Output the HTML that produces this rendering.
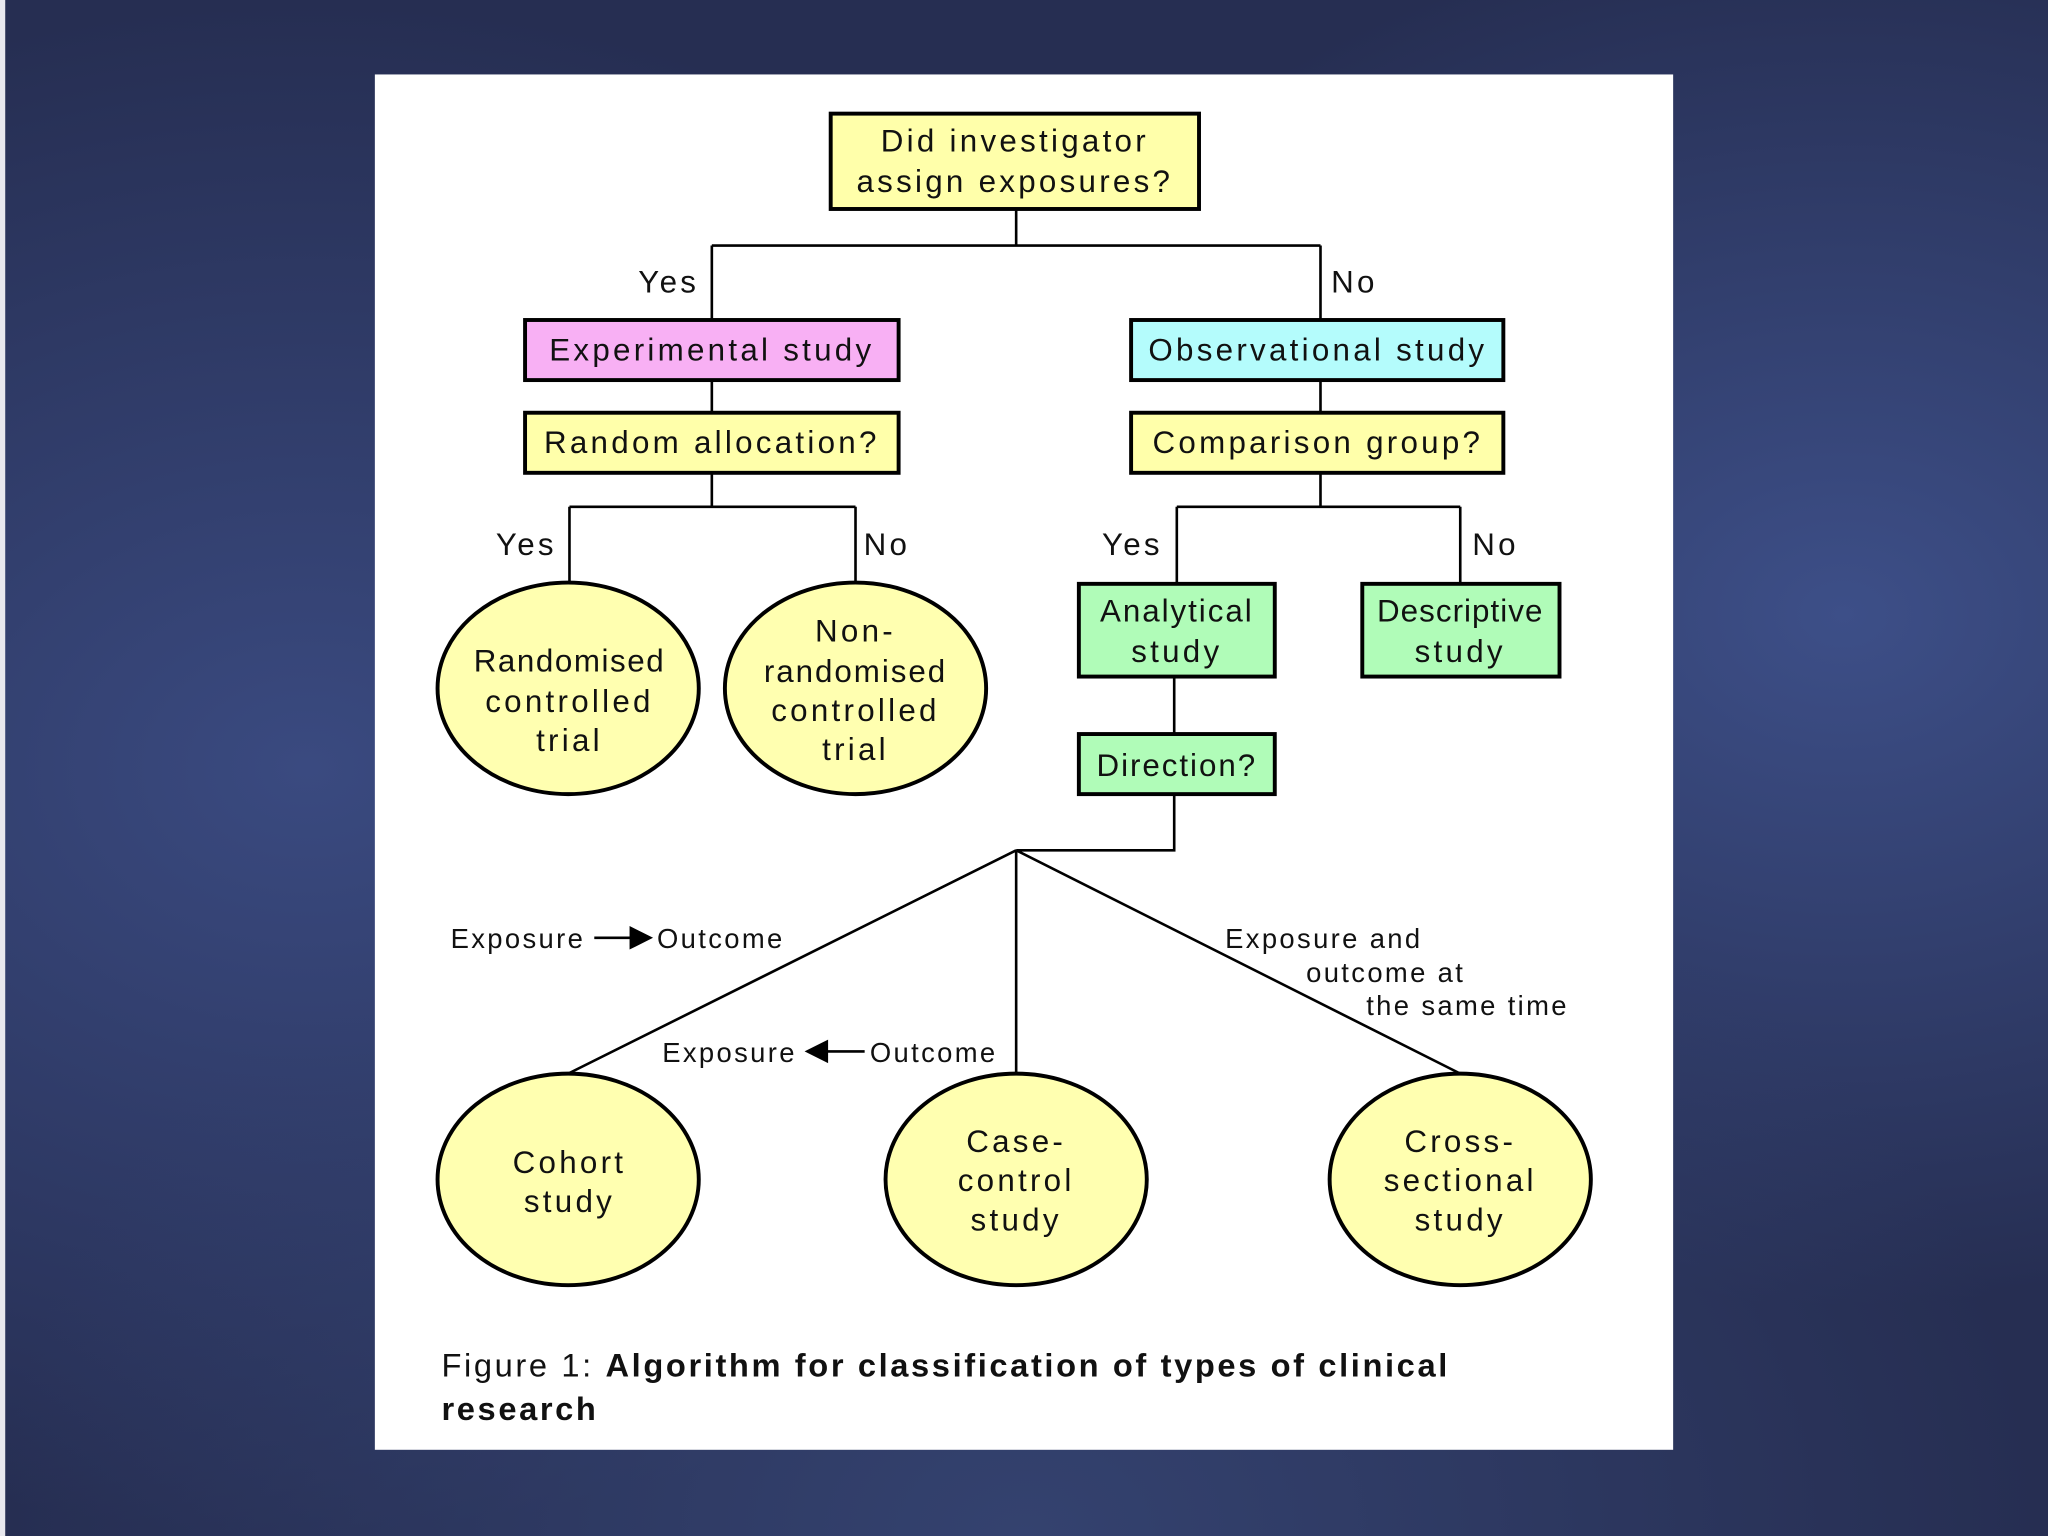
<!DOCTYPE html>
<html><head><meta charset="utf-8"><style>
html,body{margin:0;padding:0;width:2048px;height:1536px;overflow:hidden;background:#262e52}
svg{display:block}
text{font-family:"Liberation Sans",sans-serif;fill:#111}
</style></head><body>
<svg width="2048" height="1536" viewBox="0 0 1568 1176" xmlns="http://www.w3.org/2000/svg">
<defs>
<radialGradient id="g1" cx="0.15" cy="0.5" r="0.5"><stop offset="0" stop-color="#3a4a80"/><stop offset="1" stop-color="#3a4a80" stop-opacity="0"/></radialGradient>
<radialGradient id="g2" cx="0.9" cy="0.4" r="0.45"><stop offset="0" stop-color="#3d4f88"/><stop offset="1" stop-color="#3d4f88" stop-opacity="0"/></radialGradient>
<radialGradient id="g3" cx="0.5" cy="1" r="0.5"><stop offset="0" stop-color="#34426f"/><stop offset="1" stop-color="#34426f" stop-opacity="0"/></radialGradient>
</defs>
<rect width="1568" height="1176" fill="#262e52"/>
<rect width="1568" height="1176" fill="url(#g1)"/>
<rect width="1568" height="1176" fill="url(#g2)"/>
<rect width="1568" height="1176" fill="url(#g3)"/>
<rect x="0" y="0" width="4" height="1176" fill="#e8e8ee"/>
<rect x="287" y="57" width="994" height="1053" fill="#fff"/>

<g stroke="#000" stroke-width="2" fill="none">
<path d="M778 160V188M545 188H1011M545 188V245M1011 188V245M545 291V316M1011 291V316M545 362V388M436 388H655M436 388V447M655 388V447M1011 362V388M901 388H1118M901 388V447M1118 388V447M899 518V562M899 608V651H778M778 651L435 822M778 651V822M778 651L1118 822"/>
<path d="M455 718H485M632 805H662"/>
</g>
<polygon points="482,709 500,718 482,727" fill="#000"/>
<polygon points="634,796 616,805 634,814" fill="#000"/>

<g stroke="#000" stroke-width="3">
<rect x="636" y="87" width="282" height="73" fill="#ffffaa"/>
<rect x="402" y="245" width="286" height="46" fill="#f8b0f4"/>
<rect x="866" y="245" width="285" height="46" fill="#b4fcfc"/>
<rect x="402" y="316" width="286" height="46" fill="#ffffaa"/>
<rect x="866" y="316" width="285" height="46" fill="#ffffaa"/>
<rect x="826" y="447" width="150" height="71" fill="#b0fcb8"/>
<rect x="1043" y="447" width="151" height="71" fill="#b0fcb8"/>
<rect x="826" y="562" width="150" height="46" fill="#b0fcb8"/>
<ellipse cx="435" cy="527" rx="100" ry="81" fill="#ffffb0"/>
<ellipse cx="655" cy="527" rx="100" ry="81" fill="#ffffb0"/>
<ellipse cx="435" cy="903" rx="100" ry="81" fill="#ffffb0"/>
<ellipse cx="778" cy="903" rx="100" ry="81" fill="#ffffb0"/>
<ellipse cx="1118" cy="903" rx="100" ry="81" fill="#ffffb0"/>
</g>

<g font-size="24" text-anchor="middle" letter-spacing="2.5">
<text x="777" y="116">Did investigator</text>
<text x="777" y="147">assign exposures?</text>
<text x="545" y="276">Experimental study</text>
<text x="1009" y="276">Observational study</text>
<text x="545" y="347">Random allocation?</text>
<text x="1009" y="347">Comparison group?</text>
<text x="901" y="476" letter-spacing="1.5">Analytical</text>
<text x="901" y="507">study</text>
<text x="1118" y="476" letter-spacing="0.8">Descriptive</text>
<text x="1118" y="507">study</text>
<text x="901" y="594" letter-spacing="1.5">Direction?</text>
<text x="436" y="514" letter-spacing="1.2">Randomised</text>
<text x="436" y="545">controlled</text>
<text x="436" y="575">trial</text>
<text x="655" y="491">Non-</text>
<text x="655" y="522" letter-spacing="1.5">randomised</text>
<text x="655" y="552">controlled</text>
<text x="655" y="582">trial</text>
<text x="436" y="898">Cohort</text>
<text x="436" y="928">study</text>
<text x="778" y="882">Case-</text>
<text x="778" y="912">control</text>
<text x="778" y="942">study</text>
<text x="1118" y="882">Cross-</text>
<text x="1118" y="912">sectional</text>
<text x="1118" y="942">study</text>
<text x="512" y="224">Yes</text>
<text x="1037" y="224">No</text>
<text x="403" y="425">Yes</text>
<text x="679" y="425">No</text>
<text x="867" y="425">Yes</text>
<text x="1145" y="425">No</text>
</g>
<g font-size="21" letter-spacing="1.8">
<text x="345" y="726">Exposure</text>
<text x="503" y="726">Outcome</text>
<text x="507" y="813">Exposure</text>
<text x="666" y="813">Outcome</text>
<text x="938" y="726">Exposure and</text>
<text x="1000" y="752">outcome at</text>
<text x="1046" y="777">the same time</text>
</g>
<g font-size="25" letter-spacing="2">
<text x="338" y="1054">Figure 1: <tspan font-weight="bold">Algorithm for classification of types of clinical</tspan></text>
<text x="338" y="1087" font-weight="bold">research</text>
</g>
</svg>
</body></html>
